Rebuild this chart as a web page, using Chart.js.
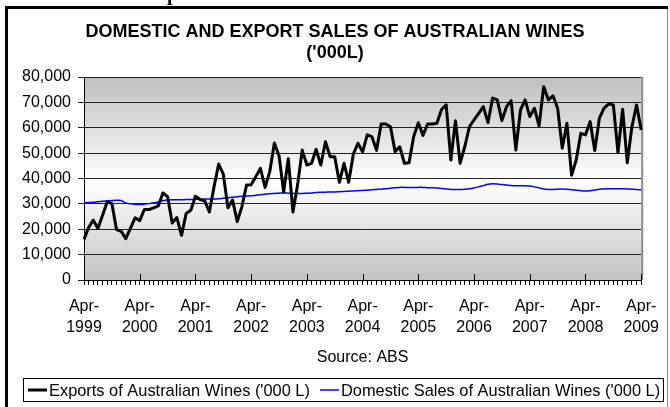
<!DOCTYPE html>
<html>
<head>
<meta charset="utf-8">
<script src="https://cdn.jsdelivr.net/npm/chart.js@4/dist/chart.umd.min.js"></script>
<style>
  html, body { margin: 0; padding: 0; background: #fff; }
  canvas { display: block; }
</style>
</head>
<body>
<canvas id="myChart" width="670" height="407"></canvas>
<script>
const titleLines = ['DOMESTIC AND EXPORT SALES OF AUSTRALIAN WINES', "('000L)"];
const sourceNote = 'Source: ABS';
const headingCut = 'Export';
const monthNames = ['Jan', 'Feb', 'Mar', 'Apr', 'May', 'Jun', 'Jul', 'Aug', 'Sep', 'Oct', 'Nov', 'Dec'];
const startMonth = 3; // April
const startYear = 1999;
const exportsLabel = "Exports of Australian Wines ('000 L)";
const domesticLabel = "Domestic Sales of Australian Wines ('000 L)";

// monthly, Apr-1999 .. Apr-2009
const exportsSales = [
    16000, 20700, 23600, 20300, 25500, 30800, 30200, 19900, 19200, 16300, 20300, 24500,
    23400, 27800, 27800, 28400, 29200, 34300, 32800, 22500, 24600, 17600, 26200, 27500,
    33000, 31700, 31200, 26800, 36700, 45700, 41700, 28500, 31500, 23000, 28800, 37400,
    37500, 40700, 44000, 36500, 42700, 54000, 49000, 34700, 47800, 26800, 37500, 51200,
    45300, 46000, 51500, 45300, 54500, 48600, 48600, 38500, 46000, 38500, 49600, 53900,
    50500, 57200, 56500, 51100, 61500, 61500, 60400, 50600, 52500, 46000, 46200, 56500,
    62000, 57000, 61500, 61500, 61800, 67200, 69000, 47300, 62800, 46000, 52500, 60400,
    63100, 65700, 68300, 62000, 71700, 71000, 62800, 68300, 70700, 51200, 67000, 71000,
    64400, 67700, 60700, 76200, 71000, 72600, 67700, 51900, 61800, 41300, 47300, 57800,
    57200, 62400, 51000, 63800, 67700, 69400, 69000, 50200, 67300, 46200, 60400, 69000,
    59100
];
const domesticSales = [
    30400, 30500, 30600, 30800, 31000, 31200, 31300, 31400, 31300, 30400, 30000, 29800,
    29800, 29900, 30100, 30400, 30800, 31200, 31500, 31600, 31600, 31600, 31700, 31700,
    31800, 31800, 31900, 31900, 31900, 32000, 32200, 32400, 32600, 32800, 33000, 33100,
    33200, 33400, 33600, 33800, 34000, 34100, 34200, 34300, 34200, 34100, 34100, 34100,
    34200, 34300, 34500, 34600, 34600, 34700, 34700, 34800, 34900, 35000, 35100, 35200,
    35300, 35400, 35600, 35700, 35800, 36000, 36200, 36400, 36500, 36500, 36500, 36500,
    36500, 36500, 36400, 36400, 36300, 36100, 35900, 35700, 35700, 35700, 35800, 36000,
    36300, 36700, 37200, 37700, 37900, 37800, 37600, 37400, 37200, 37100, 37100, 37100,
    37000, 36700, 36300, 35900, 35700, 35700, 35800, 35900, 35800, 35600, 35400, 35200,
    35100, 35200, 35500, 35800, 35900, 36000, 36000, 36000, 36000, 35900, 35800, 35700,
    35500
];
const yMin = 0;
const yMax = 80000;
const yStep = 10000;

const categories = exportsSales.map((v, i) => {
    const m = startMonth + i;
    return `${monthNames[m % 12]}-${startYear + Math.floor(m / 12)}`;
});

const fontFamily = "'Liberation Sans', Arial, sans-serif";
const ctx = document.getElementById('myChart');

const decor = {
    id: 'decor',
    beforeDraw(chart) {
        const { ctx, chartArea: a } = chart;
        ctx.save();
        ctx.fillStyle = '#fff';
        ctx.fillRect(0, 0, chart.width, chart.height);
        const g = ctx.createLinearGradient(0, a.top, 0, a.bottom);
        g.addColorStop(0, '#bfbfbf');
        g.addColorStop(0.52, '#ffffff');
        g.addColorStop(1, '#c2c2c2');
        ctx.fillStyle = g;
        ctx.fillRect(a.left, a.top, a.right - a.left, a.bottom - a.top);
        ctx.restore();
    },
    beforeDatasetsDraw(chart) {
        const { ctx, chartArea: a, scales } = chart;
        ctx.save();
        // right edge of plot
        ctx.strokeStyle = '#8a8a8a';
        ctx.lineWidth = 2;
        ctx.beginPath();
        ctx.moveTo(a.right + 1, a.top);
        ctx.lineTo(a.right + 1, a.bottom);
        ctx.stroke();
        // major ticks crossing into the plot
        ctx.strokeStyle = '#000';
        ctx.lineWidth = 1;
        categories.forEach((c, i) => {
            if (i % 12 !== 0) return;
            const x = Math.round(scales.x.getPixelForValue(i)) + 0.5;
            ctx.beginPath();
            ctx.moveTo(x, a.bottom - 6);
            ctx.lineTo(x, a.bottom);
            ctx.stroke();
        });
        ctx.restore();
    },
    afterDraw(chart) {
        const { ctx, chartArea: a } = chart;
        ctx.save();
        ctx.fillStyle = '#000';
        ctx.textBaseline = 'middle';
        ctx.textAlign = 'center';
        ctx.font = `bold 18px ${fontFamily}`;
        ctx.fillText(titleLines[0], 335, 32);
        ctx.fillText(titleLines[1], 335, 53);

        ctx.font = `16px ${fontFamily}`;
        ctx.fillText(sourceNote, (a.left + a.right) / 2, 358);

        // legend box
        ctx.strokeStyle = '#000';
        ctx.lineWidth = 1;
        ctx.strokeRect(23.5, 378.5, 640, 23);
        ctx.textAlign = 'left';
        ctx.font = `16.4px ${fontFamily}`;
        const ds = chart.data.datasets;
        let x = 28;
        ds.forEach((d) => {
            ctx.strokeStyle = d.borderColor;
            ctx.lineWidth = d.borderWidth;
            ctx.beginPath();
            ctx.moveTo(x, 390);
            ctx.lineTo(x + 19, 390);
            ctx.stroke();
            ctx.fillText(d.label, x + 21, 391);
            x += 21 + ctx.measureText(d.label).width + 10;
        });

        // outer frame
        ctx.fillStyle = '#000';
        ctx.fillRect(5, 6, 663, 3);
        ctx.fillRect(5, 6, 3, 401);
        ctx.fillStyle = '#8a8a8a';
        ctx.fillRect(667, 9, 1, 398);

        // heading above, cut off by the page edge
        ctx.fillStyle = '#000';
        ctx.font = "bold 20px 'Liberation Serif', 'Times New Roman', serif";
        ctx.textBaseline = 'alphabetic';
        const off = ctx.measureText('Ex').width;
        ctx.fillText(headingCut, 167 - off, 0);
        ctx.restore();
    }
};

new Chart(ctx, {
    type: 'line',
    data: {
        labels: categories,
        datasets: [
            {
                label: exportsLabel,
                data: exportsSales,
                borderColor: '#000000',
                borderWidth: 3,
                pointRadius: 0,
                tension: 0,
                borderJoinStyle: 'round'
            },
            {
                label: domesticLabel,
                data: domesticSales,
                borderColor: '#0000ff',
                borderWidth: 1.5,
                pointRadius: 0,
                tension: 0.3
            }
        ]
    },
    options: {
        responsive: false,
        animation: false,
        devicePixelRatio: 1,
        layout: { padding: { top: 77, right: 26, bottom: 67, left: 0 } },
        plugins: {
            legend: { display: false },
            title: { display: false },
            tooltip: { enabled: false }
        },
        scales: {
            x: {
                type: 'category',
                offset: false,
                afterFit: (scale) => { scale.height = 60; },
                grid: {
                    drawOnChartArea: false,
                    drawTicks: true,
                    tickLength: 5,
                    color: '#000'
                },
                border: { display: true, color: '#000', width: 1 },
                ticks: {
                    autoSkip: false,
                    maxRotation: 0,
                    minRotation: 0,
                    padding: 11,
                    color: '#000',
                    font: { family: fontFamily, size: 16, lineHeight: 1.3 },
                    callback: (val, i) => {
                        if (i % 12 !== 0) return '';
                        const [mon, yr] = categories[i].split('-');
                        return [mon + '-', yr];
                    }
                }
            },
            y: {
                min: yMin,
                max: yMax,
                afterFit: (scale) => { scale.width = 84; },
                grid: {
                    color: '#222',
                    lineWidth: 1,
                    drawTicks: true,
                    tickLength: 6
                },
                border: { display: true, color: '#000', width: 1 },
                ticks: {
                    stepSize: yStep,
                    padding: 7,
                    color: '#000',
                    font: { family: fontFamily, size: 16 },
                    callback: (v) => v.toLocaleString('en-US')
                }
            }
        }
    },
    plugins: [decor]
});
</script>
</body>
</html>
